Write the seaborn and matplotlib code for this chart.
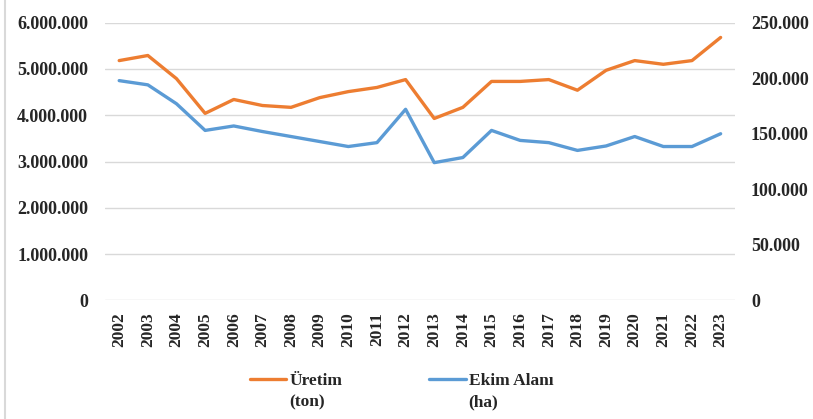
import matplotlib
matplotlib.use("Agg")
import matplotlib.pyplot as plt
from matplotlib.ticker import FuncFormatter
from matplotlib.lines import Line2D
import pandas as pd
import seaborn as sns

# Values
years = list(range(2002, 2024))
uretim_ton = [5180000, 5290000, 4790000, 4040000, 4340000, 4210000, 4170000, 4380000,
              4510000, 4600000, 4770000, 3930000, 4170000, 4730000, 4730000, 4770000,
              4540000, 4970000, 5180000, 5100000, 5180000, 5680000]
ekim_alani_ha = [197800, 194000, 177000, 153000, 157000, 152000, 147500, 143000,
                 138500, 142000, 172000, 124000, 128600, 153000, 144000, 142000,
                 135000, 139000, 147500, 138500, 138500, 150000]

df = pd.DataFrame({"year": years, "uretim": uretim_ton, "ekim": ekim_alani_ha})

sns.set_style("white")
plt.rcParams["font.family"] = ["Liberation Serif", "DejaVu Serif"]
plt.rcParams["font.weight"] = "bold"

ORANGE = "#ED7D31"
BLUE = "#5B9BD5"

fig = plt.figure(figsize=(8.13, 4.19), dpi=100)
ax = fig.add_axes([0.129, 0.283, 0.775, 0.663])
ax2 = ax.twinx()

sns.lineplot(data=df, x="year", y="uretim", ax=ax, color=ORANGE, linewidth=2.4,
             label="Üretim\n(ton)", legend=False)
sns.lineplot(data=df, x="year", y="ekim", ax=ax2, color=BLUE, linewidth=2.4,
             label="Ekim Alanı\n(ha)", legend=False)

ax.set_ylim(0, 6000000)
ax2.set_ylim(0, 250000)
ax.set_yticks(range(0, 6000001, 1000000))
ax2.set_yticks(range(0, 250001, 50000))
dot_fmt = FuncFormatter(lambda v, p: f"{int(v):,}".replace(",", "."))
ax.yaxis.set_major_formatter(dot_fmt)
ax2.yaxis.set_major_formatter(dot_fmt)

ax.set_xlim(2001.5, 2023.5)
ax.set_xticks(years)
ax.set_xticklabels([str(y) for y in years], rotation=90, fontsize=12.5, fontweight="bold")
ax.set_xlabel("")
ax.set_ylabel("")
ax2.set_ylabel("")

for a in (ax, ax2):
    for s in a.spines.values():
        s.set_visible(False)
    a.tick_params(axis="both", length=0)
ax.tick_params(axis="y", labelsize=13, pad=12)
ax2.tick_params(axis="y", labelsize=13, pad=11.5)
ax.tick_params(axis="x", pad=8.5)

ax.grid(axis="y", color="#d9d9d9", linewidth=1.0)
ax.set_axisbelow(True)

h1, l1 = ax.get_legend_handles_labels()
h2, l2 = ax2.get_legend_handles_labels()
leg = fig.legend(h1 + h2, l1 + l2, loc="center left", bbox_to_anchor=(250 / 813, 0.066),
                 ncol=2, frameon=False, handlelength=2.1, columnspacing=5.0,
                 handletextpad=0.17, borderpad=0, borderaxespad=0,
                 prop={"weight": "bold", "size": 12.5})
for t in leg.get_texts():
    t.set_linespacing(1.45)
# put the legend keys next to the first text line, as in the reference
for ln in leg.get_lines():
    ln.set_ydata([y + 8.5 for y in ln.get_ydata()])

# thin grey frame line at the left edge
fig.add_artist(Line2D([0.006, 0.006], [0.0, 1.0], transform=fig.transFigure,
                      color="#d9d9d9", linewidth=1.5))

fig.savefig("out.png", dpi=100)
